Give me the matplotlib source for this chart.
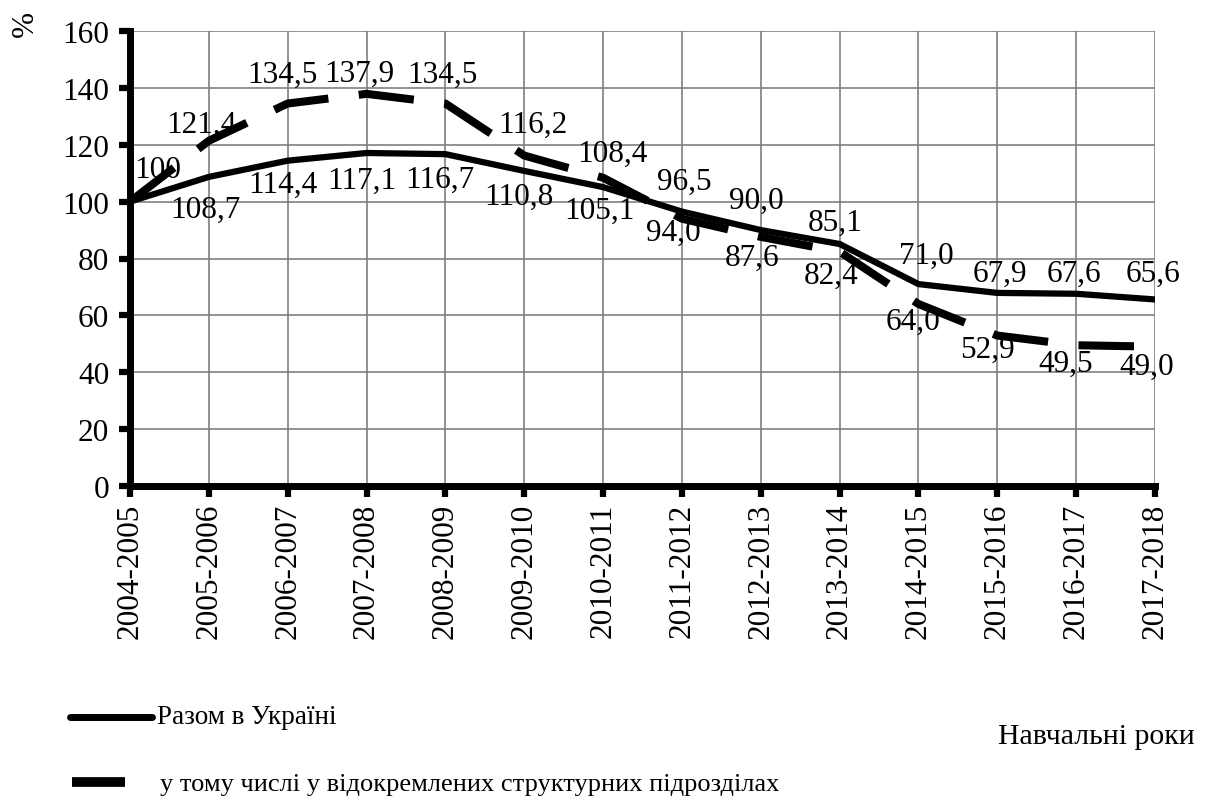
import matplotlib
matplotlib.use("Agg")
import matplotlib.pyplot as plt
from matplotlib.lines import Line2D

plt.rcParams['font.family'] = ['Liberation Serif', 'DejaVu Serif']
plt.rcParams['lines.scale_dashes'] = False

# ---- data ----
years = ["2004-2005", "2005-2006", "2006-2007", "2007-2008", "2008-2009",
         "2009-2010", "2010-2011", "2011-2012", "2012-2013", "2013-2014",
         "2014-2015", "2015-2016", "2016-2017", "2017-2018"]
total = [100, 108.7, 114.4, 117.1, 116.7, 110.8, 105.1, 96.5, 90.0, 85.1,
         71.0, 67.9, 67.6, 65.6]
branches = [100, 121.4, 134.5, 137.9, 134.5, 116.2, 108.4, 94.0, 87.6, 82.4,
            64.0, 52.9, 49.5, 49.0]
yticks = [0, 20, 40, 60, 80, 100, 120, 140, 160]
label_total = "Разом в Україні"
label_branches = "у тому числі у відокремлених структурних підрозділах"
xlabel = "Навчальні роки"
ylabel = "%"

# label offsets (pixels) – styling only
off_total = [(28, 32), (-3, -32), (-5, -24), (-5, -27), (-6, -25), (-5, -25),
             (-4, -23), (2, 30), (-4, 30), (-4, 22), (8, 29), (3, 20),
             (-2, 20), (-2, 26)]
off_branch = [None, (-7, 16), (-5, 29), (-7, 21), (-3, 29), (9, 31), (9, 24),
              (-9, -14), (-9, -20), (-8, -24), (-5, -17), (-10, -14),
              (-10, -18), (-8, -20)]

W, H = 1210, 803
fig = plt.figure(figsize=(W / 100, H / 100), dpi=100)
ax = fig.add_axes([130 / W, 1 - 487 / H, 1025 / W, 455 / H])

x = list(range(len(years)))
ax.plot(x, branches, color='black', lw=5.8, dashes=(40, 22),
        dash_capstyle='butt', zorder=3)
ax.plot(x, total, color='black', lw=4.5, solid_joinstyle='round',
        solid_capstyle='round', zorder=4)

FS = 22.5


def fmt(v, i):
    if i == 0:
        return "100"
    return f"{v:.1f}".replace('.', ',')


for i, v in enumerate(total):
    dx, dy = off_total[i]
    ax.annotate(fmt(v, i), (i, v), xytext=(dx, dy), textcoords='offset pixels',
                ha='center', va='center', fontsize=FS, zorder=5,
                annotation_clip=False)
for i, v in enumerate(branches):
    if off_branch[i] is None:
        continue
    dx, dy = off_branch[i]
    ax.annotate(fmt(v, i), (i, v), xytext=(dx, dy), textcoords='offset pixels',
                ha='center', va='center', fontsize=FS, zorder=5,
                annotation_clip=False)

ax.set_xlim(0, len(years) - 1)
ax.set_ylim(0, 160)
ax.set_yticks(yticks)
ax.set_yticklabels([str(t) for t in yticks], fontsize=FS)
ax.set_xticks(x)
ax.set_xticklabels(years, rotation=90, fontsize=FS)

ax.grid(True, color='#808080', lw=1.2)
ax.set_axisbelow(True)
for s in ['top', 'right']:
    ax.spines[s].set_visible(False)
for s in ['left', 'bottom']:
    ax.spines[s].set_linewidth(5)
    ax.spines[s].set_color('black')
ax.tick_params(axis='both', direction='out', length=8, width=4.5,
               colors='black')
ax.tick_params(axis='y', pad=7)
ax.tick_params(axis='x', pad=4)

# % label
fig.text(25 / W, 1 - 24 / H, ylabel, rotation=90, ha='center', va='center',
         fontsize=FS)

# manual legend
fig.add_artist(Line2D([70 / W, 152 / W], [1 - 718 / H, 1 - 718 / H],
                      transform=fig.transFigure, color='black', lw=5,
                      solid_capstyle='round'))
fig.text(157 / W, 1 - 718 / H, label_total, ha='left', va='center',
         fontsize=19.5)
fig.add_artist(Line2D([72 / W, 125 / W], [1 - 783 / H, 1 - 783 / H],
                      transform=fig.transFigure, color='black', lw=7,
                      solid_capstyle='butt'))
fig.text(160 / W, 1 - 785 / H, label_branches, ha='left', va='center',
         fontsize=19)
fig.text(1195 / W, 1 - 737 / H, xlabel, ha='right', va='center', fontsize=21.5)

fig.savefig("out.png", dpi=100)
